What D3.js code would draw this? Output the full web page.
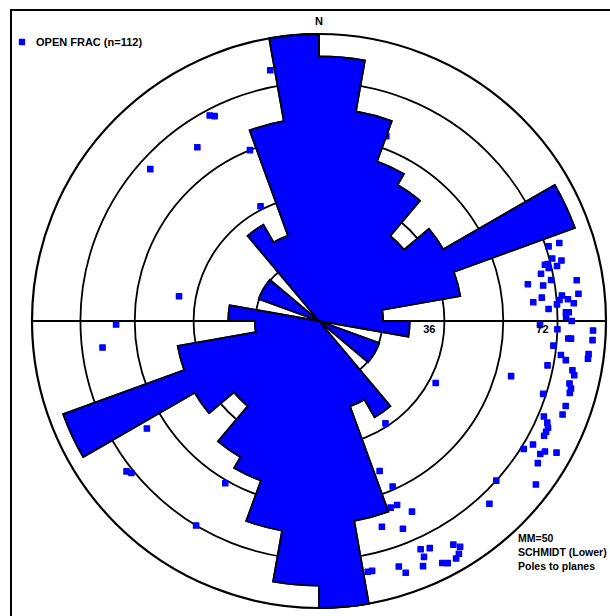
<!DOCTYPE html>
<html>
<head>
<meta charset="utf-8">
<script src="https://cdn.jsdelivr.net/npm/d3@7"></script>
<style>
  body { margin: 0; background: #fff; }
  svg { display: block; }
  text { font-family: "Liberation Sans", Arial, sans-serif; font-weight: bold; fill: #000; }
</style>
</head>
<body>
<svg id="chart" width="610" height="616"></svg>
<script>
// Strike rose (10° bins, bidirectional) — fracture counts per bin
const binStart = [0, 10, 20, 30, 40, 50, 60, 70, 80, 90, 100, 110, 120, 130, 140, 150, 160, 170];
const fracCount = [17, 11, 7, 6, 3, 5, 18, 5, 1, 2, 0, 1, 1, 0, 3, 2, 10, 20];
const outlineCount = [17, 11, 7, 6, 4, 5, 18, 5, 1, 2, 0, 1, 1, 0, 3, 2, 10, 20];
const roseMax = 20;

// Schmidt net dip circles and the ones carrying a label
const dipRings = [18, 36, 54, 72, 90];
const ringLabels = [36, 72];

// Poles to planes (trend, plunge in degrees), lower hemisphere
const poleTrend = [72, 72, 75, 76, 77, 76, 76, 77, 78, 81, 80, 80, 81, 84, 84, 85, 84, 85, 85, 87,
  86, 88, 88, 90, 89, 91, 92, 92, 94, 94, 94, 96, 97, 98, 98, 99, 101, 101, 106, 102,
  104, 105, 106, 108, 109, 111, 113, 114, 115, 116, 117, 120, 122, 121, 120, 119, 123, 127, 132, 137,
  86, 158, 156, 159, 157, 154, 163, 158, 156, 154, 156, 149, 148, 149, 152, 150, 153, 157, 162, 161,
  169, 168, 147, 118, 269, 263, 238, 231, 232, 210, 211, 312, 325, 332, 333, 338, 333, 280, 349, 9, 20];
const polePlunge = [17, 13, 17, 19, 19, 20, 14, 16, 22, 10, 19, 27, 22, 10, 23, 26, 16, 14, 17, 21,
  18, 14, 15, 13, 15, 24, 5, 18, 14, 13, 5, 19, 6, 6, 16, 14, 20, 11, 31, 10,
  11, 10, 10, 19, 10, 10, 16, 14, 13, 13, 13, 15, 17, 11, 10, 6, 10, 6, 18, 14,
  12, 43, 37, 31, 31, 27, 26, 23, 14, 13, 11, 10, 8, 6, 5, 5, 6, 8, 11, 8,
  12, 12, 55, 52, 30, 25, 30, 17, 16, 35, 18, 22, 27, 20, 21, 36, 53, 49, 12, 10, 32];

const legendLabel = "OPEN FRAC (n=112)";
const netNotes = ["MM=50", "SCHMIDT (Lower)", "Poles to planes"];

const svg = d3.select("#chart");
const cx = 319, cy = 321, R = 287;
const blue = "#0000ff";
const rad = Math.PI / 180;

// frame
svg.append("rect").attr("x", 11).attr("y", 10).attr("width", 620).attr("height", 620)
  .attr("fill", "none").attr("stroke", "#000").attr("stroke-width", 2);

const g = svg.append("g").attr("transform", `translate(${cx},${cy})`);

// equal-area (Schmidt) radius: normalised distance of a line with given plunge
const eqArea = p => Math.SQRT2 * Math.sin((90 - p) * Math.PI / 360);
const netR = d3.scaleLinear().domain([0, 1]).range([0, R]);
const roseR = d3.scaleSqrt().domain([0, roseMax]).range([0, R]);

// dip circles
g.selectAll("circle.ring").data(dipRings).join("circle")
  .attr("class", "ring")
  .attr("r", d => netR(eqArea(90 - d)))
  .attr("fill", "none").attr("stroke", "#000")
  .attr("stroke-width", d => d === 90 ? 2.2 : 1.8);

// E–W line
g.append("line").attr("x1", -R).attr("x2", R).attr("y1", 0).attr("y2", 0)
  .attr("stroke", "#000").attr("stroke-width", 2);

// poles
const poles = poleTrend.map((t, i) => {
  const r = netR(eqArea(polePlunge[i]));
  return [r * Math.sin(t * rad), -r * Math.cos(t * rad)];
});
const sym = d3.symbol(d3.symbolSquare, 28);
g.selectAll("path.pole").data(poles).join("path")
  .attr("class", "pole")
  .attr("d", sym)
  .attr("transform", d => `translate(${d[0]},${d[1]})`)
  .attr("fill", blue).attr("stroke", blue).attr("stroke-width", 1.3)
  .attr("stroke-linejoin", "round");

// rose petals (each bin drawn in both directions)
const petals = [];
binStart.forEach((b, i) => {
  [b, b + 180].forEach(a => petals.push({ a, count: fracCount[i], outline: outlineCount[i] }));
});
petals.sort((p, q) => p.a - q.a);
const arc = d3.arc().innerRadius(0);
g.selectAll("path.petal").data(petals.filter(d => d.outline > 0)).join("path")
  .attr("class", "petal")
  .attr("d", d => arc({ outerRadius: roseR(d.outline), startAngle: d.a * rad, endAngle: (d.a + 10) * rad }))
  .attr("fill", blue).attr("stroke", blue).attr("stroke-width", 1.6)
  .attr("stroke-linejoin", "miter");

// outer outline of the whole rose
const outline = d3.path();
petals.forEach((d, i) => {
  const r = roseR(d.outline);
  const a0 = (d.a - 90) * rad, a1 = (d.a + 10 - 90) * rad;
  if (i === 0) outline.moveTo(r * Math.cos(a0), r * Math.sin(a0));
  else outline.lineTo(r * Math.cos(a0), r * Math.sin(a0));
  if (r > 0) outline.arc(0, 0, r, a0, a1);
  else outline.lineTo(0, 0);
});
outline.closePath();
g.append("path").attr("d", outline.toString())
  .attr("fill", "none").attr("stroke", "#000").attr("stroke-width", 1.8)
  .attr("stroke-linejoin", "miter");

// open band where the outline exceeds the count
const band = d3.arc();
g.selectAll("path.band").data(petals.filter(d => d.outline > d.count)).join("path")
  .attr("class", "band")
  .attr("d", d => band({ innerRadius: roseR(d.count), outerRadius: roseR(d.outline), startAngle: d.a * rad, endAngle: (d.a + 10) * rad }))
  .attr("fill", "#fff").attr("stroke", "#000").attr("stroke-width", 1.8);

// ring labels
g.selectAll("text.rl").data(ringLabels).join("text")
  .attr("class", "rl")
  .attr("x", d => netR(eqArea(90 - d)) - 9)
  .attr("y", 12)
  .attr("text-anchor", "end")
  .attr("font-size", 11)
  .text(d => d);

// north
svg.append("text").attr("x", cx).attr("y", 25).attr("text-anchor", "middle")
  .attr("font-size", 11).text("N");

// legend
svg.append("path").attr("d", d3.symbol(d3.symbolSquare, 26)())
  .attr("transform", "translate(22,42)")
  .attr("fill", blue).attr("stroke", blue).attr("stroke-width", 1.2).attr("stroke-linejoin", "round");
svg.append("text").attr("x", 36).attr("y", 46).attr("font-size", 11).text(legendLabel);

// net notes
svg.selectAll("text.note").data(netNotes).join("text")
  .attr("class", "note")
  .attr("x", 518).attr("y", (d, i) => 542 + i * 14)
  .attr("font-size", 10.5).text(d => d);
</script>
</body>
</html>
